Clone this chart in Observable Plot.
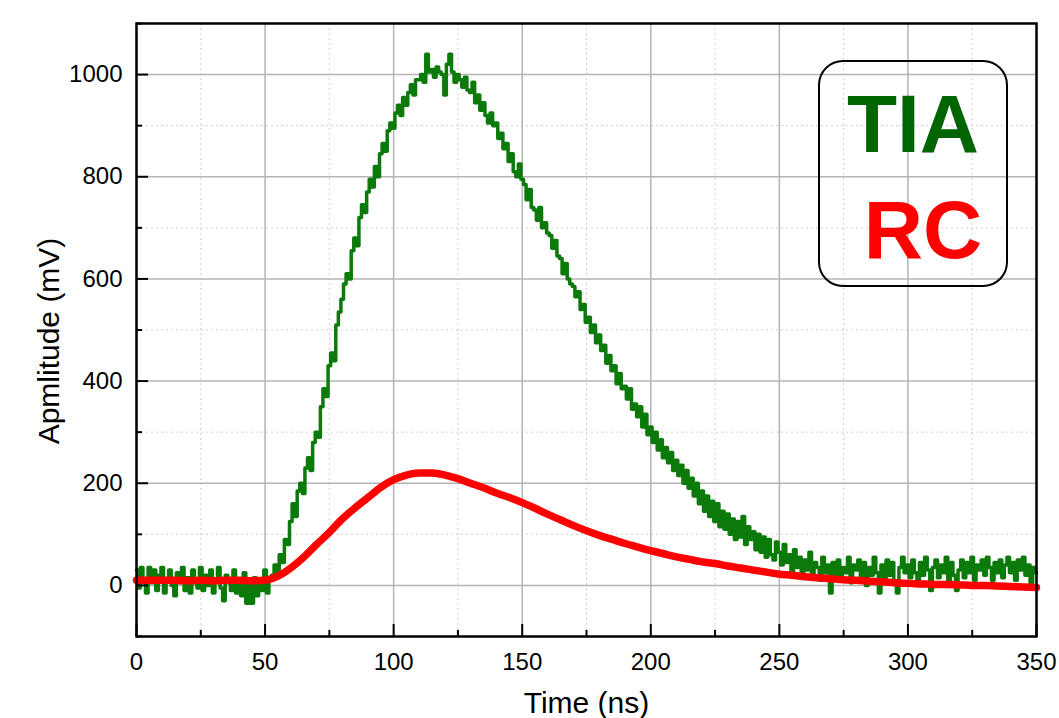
<!DOCTYPE html>
<html>
<head>
<meta charset="utf-8">
<script src="https://cdn.jsdelivr.net/npm/d3@7"></script>
<script src="https://cdn.jsdelivr.net/npm/@observablehq/plot@0.6"></script>
<style>
  html, body { margin: 0; padding: 0; background: #fff; }
  #wrap { position: relative; width: 1059px; height: 718px; overflow: hidden; font-family: "Liberation Sans", Arial, sans-serif; }
  #wrap > svg { position: absolute; left: 0; top: 0; }
  #legend { position: absolute; left: 0; top: 0; pointer-events: none; }
</style>
</head>
<body>
<div id="wrap"></div>
<script>
// ---- Data ----
// TIA trace: one sample per ns, from 0 ns to 350 ns (mV)
const tiaStart = 0, tiaStep = 1;
const tiaValues = [
  30, -5, 35, 10, -15, 35, 5, 30, -10, 20,
  35, -15, 10, 30, 0, -20, 25, 5, 35, -10,
  15, -15, 30, 5, -5, 35, -10, 20, 0, 30,
  -15, 10, 35, -5, -30, 20, 5, -10, 30, -15,
  10, -20, 25, -35, 0, -35, 15, -20, 5, -10,
  30, -15, 10, 20, 40, 25, 60, 45, 90, 80,
  125, 160, 135, 185, 200, 180, 230, 250, 225, 280,
  300, 290, 350, 385, 370, 430, 455, 440, 510, 535,
  560, 590, 610, 600, 655, 680, 665, 720, 745, 730,
  770, 795, 780, 820, 800, 845, 865, 850, 890, 905,
  895, 925, 940, 920, 955, 940, 965, 980, 960, 990,
  990, 1000, 985, 1040, 1005, 1010, 995, 1015, 1005, 1000,
  960, 1020, 1040, 1005, 985, 1000, 990, 975, 995, 970,
  965, 985, 945, 960, 930, 945, 920, 905, 925, 900,
  905, 875, 885, 855, 865, 830, 845, 810, 800, 825,
  795, 785, 755, 775, 740, 735, 715, 740, 700, 710,
  690, 685, 660, 675, 645, 640, 610, 630, 600, 590,
  585, 565, 575, 540, 550, 515, 525, 495, 510, 475,
  490, 460, 470, 435, 450, 420, 430, 395, 415, 385,
  390, 365, 385, 345, 355, 330, 350, 310, 335, 295,
  310, 280, 300, 265, 285, 250, 270, 240, 260, 225,
  245, 215, 235, 200, 225, 190, 210, 175, 200, 160,
  185, 145, 175, 135, 165, 125, 160, 115, 145, 110,
  140, 100, 130, 90, 125, 95, 135, 80, 115, 90,
  105, 70, 100, 65, 95, 55, 90, 60, 50, 85,
  65, 40, 80, 45, 60, 25, 70, 35, 55, 20,
  50, 30, 65, 20, 45, 35, 10, 55, 25, 40,
  -15, 45, 20, 50, 10, 35, 25, 55, 5, 40,
  30, 50, 15, 45, 0, 35, 20, 55, 25, -15,
  40, 10, 50, 20, 45, 5, -15, 35, 55, 25,
  40, 15, 50, 25, 0, 45, 20, 55, 30, -10,
  35, 50, 15, 40, 25, 55, 5, 45, 20, -10,
  30, 50, 15, 45, 25, 55, 10, 40, 30, 50,
  20, 55, 35, 10, 45, 25, 50, 15, 40, 55,
  25, 45, 10, 50, 30, 55, 20, 40, 5, 35,
  25
];

// RC trace: one sample per 5 ns, from 0 ns to 350 ns (mV)
const rcStart = 0, rcStep = 5;
const rcValues = [
  10, 10, 10, 10, 9, 10, 9, 10, 10, 9,
  10, 18, 34, 55, 80, 104, 130, 152, 172, 192,
  207, 216, 220, 220, 216, 209, 200, 191, 181, 172,
  162, 151, 139, 128, 117, 107, 98, 90, 82, 75,
  68, 62, 56, 51, 46, 43, 38, 34, 30, 26,
  22, 20, 17, 15, 13, 11, 10, 8, 7, 5,
  4, 3, 2, 2, 1, 0, 0, -1, -2, -3,
  -4
];

const xMajor = [0, 50, 100, 150, 200, 250, 300, 350];
const xMinor = [25, 75, 125, 175, 225, 275, 325];
const yMajor = [0, 200, 400, 600, 800, 1000];
const yMinor = [-100, 100, 300, 500, 700, 900, 1100];

const xLabel = "Time (ns)";
const yLabel = "Apmlitude (mV)";
const legendItems = ["TIA", "RC"];

// ---- Build tables ----
const tia = tiaValues.map((v, i) => ({t: tiaStart + i * tiaStep, v}));
const rc = rcValues.map((v, i) => ({t: rcStart + i * rcStep, v}));

const font = "Liberation Sans, Arial, sans-serif";
const gridMajor = {stroke: "#b4b4b4", strokeOpacity: 1, strokeWidth: 1.5};
const gridMinor = {stroke: "#cfcfcf", strokeOpacity: 1, strokeWidth: 1, strokeDasharray: "2,3"};
const blank = () => "";
const plain = d3.format("d");

const chart = Plot.plot({
  width: 1059,
  height: 718,
  marginLeft: 136,
  marginRight: 23,
  marginTop: 23,
  marginBottom: 82,
  style: {fontFamily: font, fontSize: "24px", color: "#000", background: "#fff", overflow: "visible"},
  x: {domain: [0, 350]},
  y: {domain: [-100, 1100]},
  marks: [
    Plot.gridX(xMinor, gridMinor),
    Plot.gridY(yMinor, gridMinor),
    Plot.gridX(xMajor, gridMajor),
    Plot.gridY(yMajor, gridMajor),
    Plot.line(tia, {x: "t", y: "v", stroke: "#0b7a0b", strokeWidth: 3.5, curve: "step"}),
    Plot.line(rc, {x: "t", y: "v", stroke: "#ff0000", strokeWidth: 7.5, curve: "monotone-x"}),
    Plot.frame({stroke: "#000", strokeWidth: 2.5}),
    // inward ticks
    Plot.axisX(xMajor, {anchor: "bottom", tickSize: 12, dy: -12, strokeWidth: 2, tickFormat: blank, label: null}),
    Plot.axisX(xMinor, {anchor: "bottom", tickSize: 6, dy: -6, strokeWidth: 2, tickFormat: blank, label: null}),
    Plot.axisY(yMajor, {anchor: "left", tickSize: 12, dx: 12, strokeWidth: 2, tickFormat: blank, label: null}),
    Plot.axisY(yMinor, {anchor: "left", tickSize: 6, dx: 6, strokeWidth: 2, tickFormat: blank, label: null}),
    // tick labels
    Plot.axisX(xMajor, {anchor: "bottom", tickSize: 0, tickPadding: 16, label: null, fontSize: 24, tickFormat: plain}),
    Plot.axisY(yMajor, {anchor: "left", tickSize: 0, tickPadding: 14, label: null, fontSize: 24, tickFormat: plain}),
    // axis titles
    Plot.text([xLabel], {frameAnchor: "bottom", dy: 76, lineAnchor: "bottom", textAnchor: "middle", fontSize: 30, fill: "#000"}),
    Plot.text([yLabel], {frameAnchor: "left", dx: -87, dy: 11, rotate: -90, lineAnchor: "middle", textAnchor: "middle", fontSize: 30, fill: "#000"})
  ]
});

const wrap = document.getElementById("wrap");
wrap.appendChild(chart);

// legend box (overlay)
const legendColors = ["#006400", "#ff0000"];
const lg = d3.select(wrap).append("svg")
  .attr("id", "legend").attr("width", 1059).attr("height", 718);
lg.append("rect")
  .attr("x", 819).attr("y", 61).attr("width", 188).attr("height", 225)
  .attr("rx", 24).attr("ry", 24)
  .attr("fill", "none").attr("stroke", "#000").attr("stroke-width", 2);
const lx = [913, 923], ly = [152, 258];
legendItems.forEach((name, i) => {
  lg.append("text")
    .attr("x", lx[i]).attr("y", ly[i])
    .attr("text-anchor", "middle")
    .attr("font-family", font)
    .attr("font-weight", "bold")
    .attr("font-size", 82)
    .attr("fill", legendColors[i])
    .text(name);
});
</script>
</body>
</html>
